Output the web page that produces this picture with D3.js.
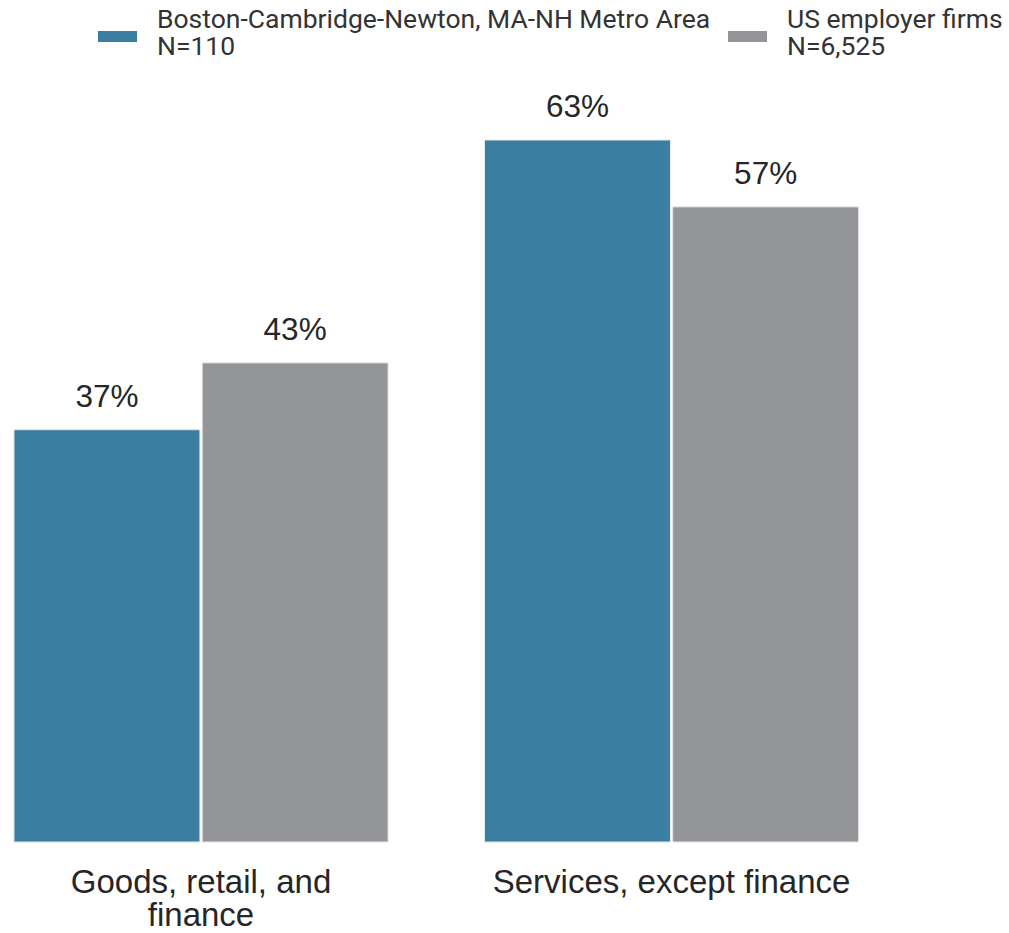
<!DOCTYPE html>
<html><head><meta charset="utf-8">
<script src="https://cdn.jsdelivr.net/npm/d3@7"></script>
<style>body{margin:0;background:#fff}svg{display:block}</style>
</head><body>
<svg id="c" width="1009" height="933"></svg>
<script>
const categories = ["Goods, retail, and finance", "Services, except finance"];
const categoryLines = [["Goods, retail, and", "finance"], ["Services, except finance"]];
const seriesNames = ["Boston-Cambridge-Newton, MA-NH Metro Area", "US employer firms"];
const seriesN = ["N=110", "N=6,525"];
const bostonValues = [37, 63];
const usValues = [43, 57];
const colors = ["#3a7ea1", "#939598"];

const svg = d3.select("#c");
const x0 = d3.scaleBand().domain(categories).range([14, 858.6]).paddingInner(0.205).paddingOuter(0);
const x1 = d3.scaleBand().domain([0, 1]).range([0, x0.bandwidth()]).paddingInner(0.012);
const y = d3.scaleLinear().domain([0, 63]).range([842, 140]);

const series = [bostonValues, usValues];
const g = svg.append("g");
categories.forEach((c, ci) => {
  series.forEach((vals, si) => {
    const v = vals[ci];
    g.append("rect")
      .attr("x", x0(c) + x1(si))
      .attr("y", y(v))
      .attr("width", x1.bandwidth())
      .attr("height", y(0) - y(v))
      .attr("fill", colors[si])
      .attr("stroke", "#e6e6e6")
      .attr("stroke-width", 1);
    g.append("text")
      .attr("x", x0(c) + x1(si) + x1.bandwidth() / 2)
      .attr("y", y(v) - 23)
      .attr("text-anchor", "middle")
      .attr("font-family", "Liberation Sans, Arial, sans-serif")
      .attr("font-size", 31.5)
      .attr("fill", "#262626")
      .text(v + "%");
  });
  categoryLines[ci].forEach((line, li) => {
    svg.append("text")
      .attr("text-anchor", "middle")
      .attr("font-family", "Liberation Sans, Arial, sans-serif")
      .attr("font-size", 33)
      .attr("fill", "#262626")
      .attr("x", x0(c) + x0.bandwidth() / 2)
      .attr("y", 893 + li * 33)
      .text(line);
  });
});

// legend
const legX = [98, 728];
seriesNames.forEach((name, i) => {
  svg.append("rect").attr("x", legX[i]).attr("y", 31).attr("width", 39).attr("height", 11).attr("fill", colors[i]);
  [name, seriesN[i]].forEach((line, li) => {
    svg.append("text")
      .attr("font-family", "Roboto, sans-serif")
      .attr("font-size", 26.5)
      .attr("fill", "#333")
      .attr("x", legX[i] + 59)
      .attr("y", 28 + li * 27)
      .text(line);
  });
});
</script>
</body></html>
